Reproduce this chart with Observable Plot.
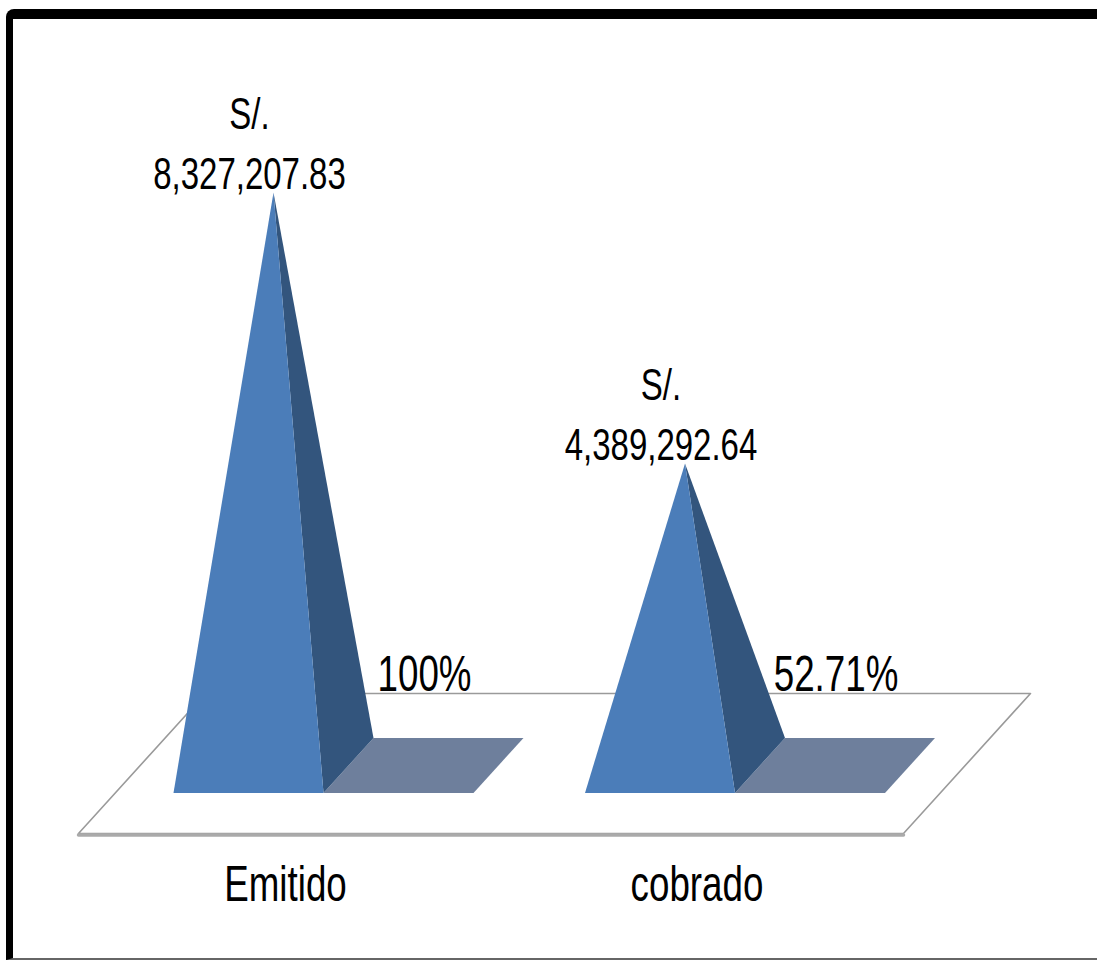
<!DOCTYPE html>
<html>
<head>
<meta charset="utf-8">
<script src="https://cdn.jsdelivr.net/npm/d3@7"></script>
<script src="https://cdn.jsdelivr.net/npm/@observablehq/plot@0.6"></script>
<style>
  html, body { margin: 0; padding: 0; background: #fff; }
  #frame {
    position: absolute; left: 6px; top: 9px; width: 1200px; height: 951px;
    border-top: 10px solid #000; border-left: 7px solid #000; border-bottom: 2px solid #666;
    border-top-left-radius: 8px; box-sizing: border-box;
  }
  #chart { position: absolute; left: 0; top: 0; }
</style>
</head>
<body>
<div id="frame"></div>
<div id="chart"></div>
<script>
// ---- data ----
const categories = ["Emitido", "cobrado"];
const amounts = [8327207.83, 4389292.64];
const amountLabels = ["S/.\n8,327,207.83", "S/.\n4,389,292.64"];
const percentLabels = ["100%", "52.71%"];

// ---- geometry (pixels), converted into scale units ----
const xDomain = [0, 1], xRange = [248, 659.5];
const yDomain = [0, 1e7], yRange = [765, 77];
const kx = (xDomain[1] - xDomain[0]) / (xRange[1] - xRange[0]);
const ky = (yDomain[1] - yDomain[0]) / (yRange[0] - yRange[1]);
const halfW = 75 * kx, depX = 50 * kx, depY = 55 * ky, shadowLen = 150 * kx;

const faces = [];
categories.forEach((c, i) => {
  const v = amounts[i];
  const FL = [i - halfW, -depY / 2], FR = [i + halfW, -depY / 2];
  const BR = [i + halfW + depX, depY / 2], AP = [i + depX / 2, v];
  const poly = (name, pts) => pts.forEach(([x, y], k) => faces.push({id: c + name, part: name, x, y, k}));
  poly("shadow", [FR, BR, [BR[0] + shadowLen, BR[1]], [FR[0] + shadowLen, FR[1]]]);
  poly("side", [FR, BR, AP]);
  poly("front", [FL, FR, AP]);
});

// floor parallelogram
const floorLeft = 0 - 170 * kx, floorRight = 1 + 243.5 * kx;
const floorFront = -68 * ky, floorBack = 72 * ky, floorShift = 127 * kx;
const floor = [
  {x: floorLeft, y: floorFront}, {x: floorRight, y: floorFront},
  {x: floorRight + floorShift, y: floorBack}, {x: floorLeft + floorShift, y: floorBack},
  {x: floorLeft, y: floorFront}
];
const floorFrontEdge = [floor[0], floor[1]];

const colors = {front: "#4b7db9", side: "#33557d", shadow: "#6e7f9c"};
const font = "'Liberation Sans Narrow', 'Arial Narrow', 'Liberation Sans', sans-serif";

const labelData = categories.map((c, i) => ({
  c, i, v: amounts[i], amt: amountLabels[i], pct: percentLabels[i]
}));

const chart = Plot.plot({
  width: 1097, height: 961,
  margin: 0,
  x: {domain: xDomain, range: xRange, axis: null},
  y: {domain: yDomain, range: yRange, axis: null},
  style: {fontFamily: font, background: "transparent"},
  marks: [
    Plot.line(floor, {x: "x", y: "y", fill: "#fff", stroke: "#9a9a9a", strokeWidth: 1.6}),
    Plot.line(floorFrontEdge, {x: "x", y: "y", stroke: "#aaaaaa", strokeWidth: 3.5, dy: 1.5}),
    Plot.line(faces.filter(d => d.part === "shadow"), {x: "x", y: "y", z: "id", fill: colors.shadow, stroke: "none"}),
    Plot.line(faces.filter(d => d.part === "side"), {x: "x", y: "y", z: "id", fill: colors.side, stroke: "none"}),
    Plot.line(faces.filter(d => d.part === "front"), {x: "x", y: "y", z: "id", fill: colors.front, stroke: "none"}),
    Plot.text(labelData, {
      x: d => d.i + depX / 2, y: "v", text: "amt",
      dx: -24, dy: -4, lineAnchor: "bottom", lineHeight: 1.36,
      fontSize: 44, fill: "#000"
    }),
    Plot.text(labelData, {
      x: d => d.i + 176 * kx, y: () => 75 * ky, text: "pct",
      lineAnchor: "bottom", fontSize: 49, fill: "#000"
    }),
    Plot.text(labelData, {
      x: d => d.i + 37 * kx, y: () => -135 * ky, text: "c",
      lineAnchor: "bottom", fontSize: 49, fill: "#000"
    })
  ]
});

// condense the text horizontally (narrow face substitute)
const squeeze = 0.75;
d3.select(chart).selectAll("text").each(function () {
  const t = this.getAttribute("transform");
  if (t) {
    this.setAttribute("transform", t + ` scale(${squeeze},1)`);
  } else {
    const x = +this.getAttribute("x") || 0, y = +this.getAttribute("y") || 0;
    this.setAttribute("x", 0); this.setAttribute("y", 0);
    this.setAttribute("transform", `translate(${x},${y}) scale(${squeeze},1)`);
  }
});
document.getElementById("chart").appendChild(chart);
</script>
</body>
</html>
